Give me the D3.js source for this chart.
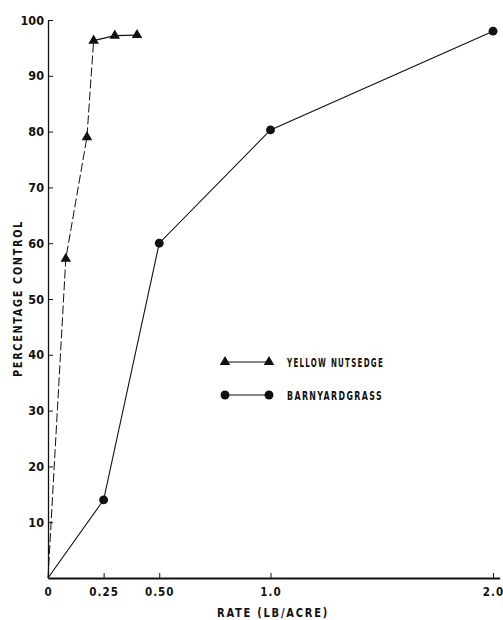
<!DOCTYPE html>
<html>
<head>
<meta charset="utf-8">
<script src="https://cdn.jsdelivr.net/npm/d3@7"></script>
<style>
  html, body { margin: 0; padding: 0; background: #fff; }
  svg { display: block; }
  text { font-family: "Liberation Sans Narrow", "DejaVu Sans Condensed", "Liberation Sans", sans-serif; font-weight: bold; fill: #111; }
</style>
</head>
<body>
<svg id="chart" width="503" height="620"></svg>
<script>
// Herbicide rate (lb/acre) vs. percentage control
const nutsedgeRate = [0, 0.08, 0.175, 0.205, 0.30, 0.40];
const nutsedgeControl = [0, 57.2, 79.0, 96.3, 97.2, 97.3];
const barnyardRate = [0, 0.25, 0.50, 1.0, 2.0];
const barnyardControl = [0, 14, 60, 80.3, 98];

const xTickValues = [0, 0.25, 0.5, 1.0, 2.0];
const xTickLabels = ["0", "0.25", "0.50", "1.0", "2.0"];
const yTickValues = [10, 20, 30, 40, 50, 60, 70, 80, 90, 100];

const seriesNames = ["YELLOW NUTSEDGE", "BARNYARDGRASS"];

const svg = d3.select("#chart");
const ink = "#111";

const x = d3.scaleLinear().domain([0, 2.03]).range([48, 499.7]);
const y = d3.scaleLinear().domain([0, 100]).range([578, 20]);

// Axes with inward ticks
const xAxis = d3.axisBottom(x)
  .tickValues(xTickValues)
  .tickFormat((d, i) => xTickLabels[i])
  .tickSizeInner(-5)
  .tickSizeOuter(0)
  .tickPadding(10);
const gx = svg.append("g").attr("transform", `translate(0,${y(0)})`).call(xAxis);
gx.select(".domain").attr("stroke", ink).attr("stroke-width", 2);
gx.selectAll(".tick line").attr("stroke", ink);
gx.selectAll(".tick text").attr("font-size", 11.5).attr("letter-spacing", 1).attr("fill", ink);

const yAxis = d3.axisLeft(y)
  .tickValues(yTickValues)
  .tickSizeInner(-5)
  .tickSizeOuter(0)
  .tickPadding(4);
const gy = svg.append("g").attr("transform", `translate(${x(0)},0)`).call(yAxis);
gy.select(".domain").attr("stroke", ink).attr("stroke-width", 1.3);
gy.selectAll(".tick line").attr("stroke", ink);
gy.selectAll(".tick text").attr("font-size", 12.5).attr("fill", ink);

// Axis titles
svg.append("text")
  .attr("x", 217).attr("y", 617)
  .attr("font-size", 12.5)
  .attr("letter-spacing", 2)
  .attr("textLength", 112)
  .attr("lengthAdjust", "spacingAndGlyphs")
  .text("RATE (LB/ACRE)");

svg.append("text")
  .attr("transform", "translate(22,377) rotate(-90)")
  .attr("font-size", 12.5)
  .attr("letter-spacing", 2)
  .attr("textLength", 157)
  .attr("lengthAdjust", "spacingAndGlyphs")
  .text("PERCENTAGE CONTROL");

// Series data as point arrays
const nutsedge = nutsedgeRate.map((r, i) => [r, nutsedgeControl[i]]);
const barnyard = barnyardRate.map((r, i) => [r, barnyardControl[i]]);

const line = d3.line().x(d => x(d[0])).y(d => y(d[1]));

// Yellow nutsedge: steep rising part dashed, plateau solid
svg.append("path")
  .attr("d", line(nutsedge.slice(0, 4)))
  .attr("fill", "none").attr("stroke", ink).attr("stroke-width", 1)
  .attr("stroke-dasharray", "9,3");
svg.append("path")
  .attr("d", line(nutsedge.slice(3)))
  .attr("fill", "none").attr("stroke", ink).attr("stroke-width", 1.2);

// Barnyardgrass line
svg.append("path")
  .attr("d", line(barnyard))
  .attr("fill", "none").attr("stroke", ink).attr("stroke-width", 1.1);

const tri = d3.symbol().type(d3.symbolTriangle).size(48);
const dot = d3.symbol().type(d3.symbolCircle).size(62);

svg.append("g").selectAll("path")
  .data(nutsedge.slice(1))
  .join("path")
  .attr("d", tri)
  .attr("transform", d => `translate(${x(d[0])},${y(d[1])})`)
  .attr("fill", ink);

svg.append("g").selectAll("path")
  .data(barnyard.slice(1))
  .join("path")
  .attr("d", dot)
  .attr("transform", d => `translate(${x(d[0])},${y(d[1])})`)
  .attr("fill", ink);

// Legend
const legend = svg.append("g");
const legendRows = [
  { name: seriesNames[0], sym: tri, y: 362, len: 97 },
  { name: seriesNames[1], sym: dot, y: 395, len: 96 }
];
legendRows.forEach(r => {
  legend.append("line")
    .attr("x1", 225).attr("x2", 269).attr("y1", r.y).attr("y2", r.y)
    .attr("stroke", ink).attr("stroke-width", 1.1);
  [225, 269].forEach(px => {
    legend.append("path").attr("d", r.sym)
      .attr("transform", `translate(${px},${r.y})`).attr("fill", ink);
  });
  legend.append("text")
    .attr("x", 287).attr("y", r.y + 5)
    .attr("font-size", 12.5)
    .attr("letter-spacing", 2)
    .attr("textLength", r.len)
    .attr("lengthAdjust", "spacingAndGlyphs")
    .text(r.name);
});
</script>
</body>
</html>
